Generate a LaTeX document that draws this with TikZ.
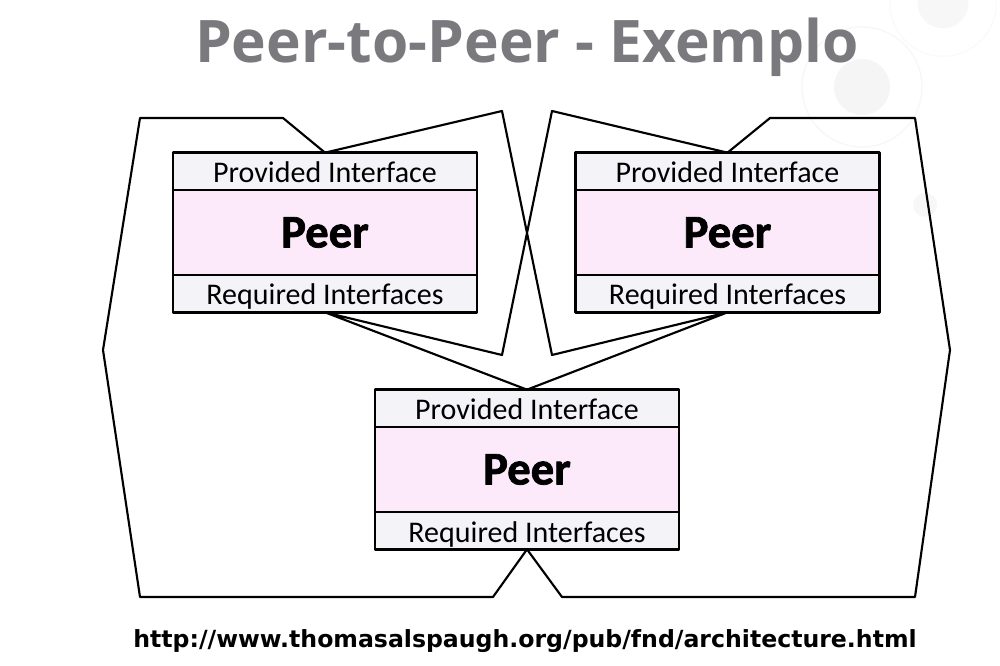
\documentclass[tikz,border=0pt]{standalone}
\usepackage{fontspec}
\setmainfont{Carlito}
\newfontfamily\titlefont{Open Sans}
\newfontfamily\urlfont{DejaVu Sans}
\newfontfamily\heavyfont[BoldFeatures={FakeBold=1.6}]{Carlito}
\usetikzlibrary{positioning}
\definecolor{pinkfill}{RGB}{252,234,250}
\definecolor{lightfill}{RGB}{244,244,248}
\definecolor{titlegray}{RGB}{122,122,126}
\begin{document}
\begin{tikzpicture}[x=0.75pt,y=-0.75pt,line join=round,line cap=round]
    \tikzset{core/.style={draw,line width=1.8pt,fill=pinkfill,minimum width=228pt,minimum height=63.75pt,inner sep=0pt,outer sep=0pt,font=\heavyfont\bfseries\fontsize{35}{35}\selectfont},
        iface/.style={draw,line width=1.8pt,fill=lightfill,minimum width=228pt,minimum height=28pt,inner sep=0pt,outer sep=0pt,text height=18pt,text depth=1pt,font=\fontsize{22.5}{22.5}\selectfont},
        wire/.style={line width=1.6pt}}
    \useasboundingbox[fill=white] (0,0) rectangle (1000,666);
    % faint background dots, top right
    \fill[black!4] (862,87) circle (21pt);
    \fill[black!3] (943,3) circle (19pt);
    \fill[black!3] (925,205) circle (9pt);
    \draw[black!3,line width=1pt] (862,87) circle (45pt);
    \draw[black!2,line width=1pt] (943,3) circle (40pt);
    \node[font=\titlefont\bfseries\fontsize{44}{44}\selectfont,text=titlegray,anchor=base] (title) at (527,63) {Peer-to-Peer - Exemplo};
    \foreach \n/\x/\y in {lp/325/232.5,rp/727.5/232.5,bp/527/469.5}{
        \node[core] (\n) at (\x,\y) {Peer};
        \node[iface,above=0pt of \n] (\n-p) {Provided Interface};
        \node[iface,below=0pt of \n] (\n-r) {Required Interfaces};
    }
    \coordinate (ltop) at (502,111);
    \coordinate (rtop) at (552,111);
    \coordinate (lbot) at (502,355);
    \coordinate (rbot) at (552,355);
    \coordinate (nw) at (140,118);
    \coordinate (nwin) at (283,118);
    \coordinate (ne) at (915,118);
    \coordinate (nein) at (770,118);
    \coordinate (w) at (103,350);
    \coordinate (e) at (950,350);
    \coordinate (sw) at (140,597);
    \coordinate (swin) at (493,597);
    \coordinate (se) at (915,597);
    \coordinate (sein) at (562,597);
    \draw[wire] (lp-p.north)--(ltop)--(rbot)--(rp-r.south)--(bp-p.north)--(lp-r.south)--(lbot)--(rtop)--(rp-p.north)
        --(nein)--(ne)--(e)--(se)--(sein)--(bp-r.south)--(swin)--(sw)--(w)--(nw)--(nwin)--cycle;
    \node[font=\urlfont\bfseries\fontsize{17.7}{17.7}\selectfont,anchor=base] (url) at (525,647) {http://www.thomasalspaugh.org/pub/fnd/architecture.html};
\end{tikzpicture}
\end{document}
